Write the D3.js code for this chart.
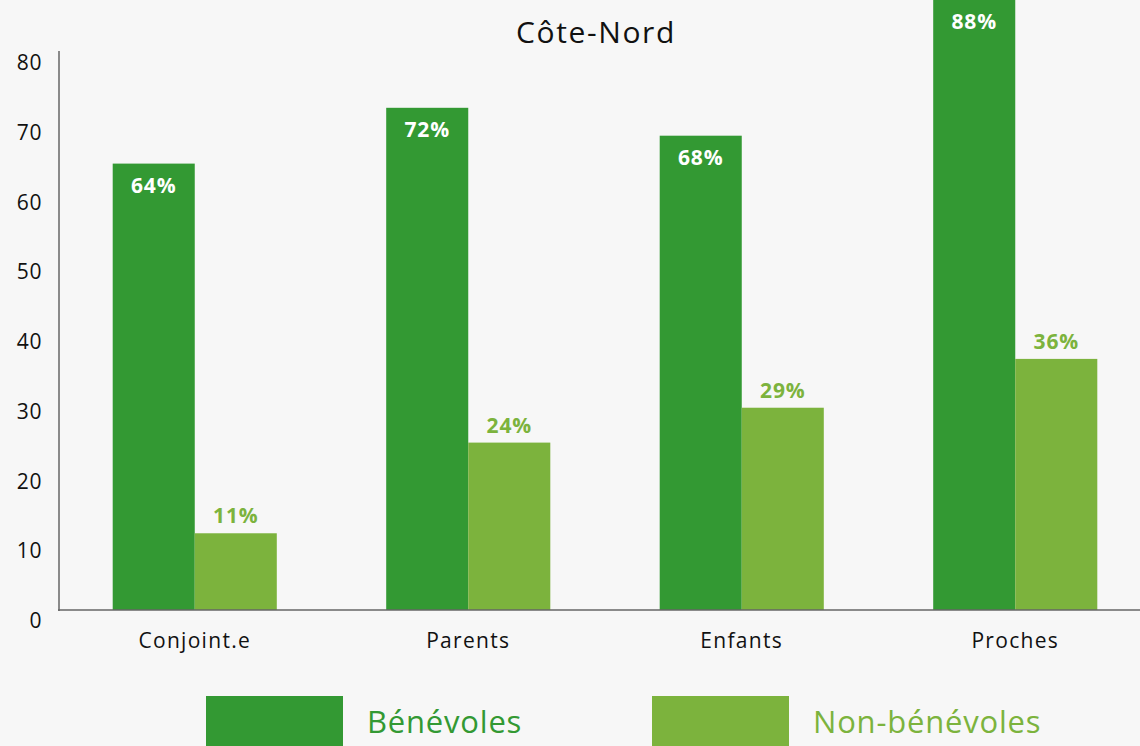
<!DOCTYPE html>
<html><head><meta charset="utf-8">
<script src="https://cdn.jsdelivr.net/npm/d3@7"></script>
<style>
html,body{margin:0;padding:0;background:#f7f7f7;}
svg{display:block;font-family:"Open Sans",Lato,sans-serif;}
</style></head>
<body>
<svg id="chart" width="1140" height="746"></svg>
<script>
const categories = ["Conjoint.e", "Parents", "Enfants", "Proches"];
const seriesNames = ["Bénévoles", "Non-bénévoles"];
const benevoles = [64, 72, 68, 88];
const nonBenevoles = [11, 24, 29, 36];
const yTicks = [0, 10, 20, 30, 40, 50, 60, 70, 80];
const title = "Côte-Nord";
const colors = ["#339933", "#7cb33d"];

const svg = d3.select("#chart");
svg.append("rect").attr("width",1140).attr("height",746).attr("fill","#f7f7f7");

const x = d3.scaleBand().domain(categories).range([58, 1152]).paddingInner(0).paddingOuter(0);
const x1 = d3.scaleBand().domain(seriesNames).range([0, x.bandwidth()]).paddingInner(0).paddingOuter(0.6667);
const y = d3.scaleLinear().domain([0, 80]).range([610, 52]);

const yAxis = svg.append("g");
yAxis.selectAll("text").data(yTicks).join("text")
  .attr("x", 42).attr("y", d => y(d) + 10)
  .attr("text-anchor","end").attr("dominant-baseline","central")
  .attr("font-size", 21).attr("letter-spacing", 0.6).attr("fill","#111").text(d => d);

const data = categories.map((c,i) => ({cat:c, vals:[benevoles[i], nonBenevoles[i]]}));

const groups = svg.append("g").selectAll("g").data(data).join("g")
  .attr("transform", d => `translate(${x(d.cat)},0)`);

groups.selectAll("rect").data(d => d.vals.map((v,j)=>({v, s:seriesNames[j], j})))
  .join("rect")
  .attr("x", d => x1(d.s)).attr("width", x1.bandwidth())
  .attr("y", d => y(d.v)).attr("height", d => y(0) - y(d.v))
  .attr("fill", d => colors[d.j]);

groups.selectAll("text.val").data(d => d.vals.map((v,j)=>({v, s:seriesNames[j], j})))
  .join("text").attr("class","val")
  .attr("x", d => x1(d.s) + x1.bandwidth()/2)
  .attr("y", d => d.j === 0 ? Math.max(y(d.v), 0) + 21 : y(d.v) - 18)
  .attr("text-anchor","middle").attr("dominant-baseline","central")
  .attr("font-size", 21).attr("font-weight","bold").attr("letter-spacing", 0.8)
  .attr("fill", d => d.j === 0 ? "#ffffff" : colors[1])
  .text(d => d.v + "%");

svg.append("line").attr("x1",59).attr("x2",59).attr("y1",y(80)-1).attr("y2",y(0)+1)
  .attr("stroke","#666").attr("stroke-width",1.5);
svg.append("line").attr("x1",58).attr("x2",1140).attr("y1",y(0)).attr("y2",y(0))
  .attr("stroke","#666").attr("stroke-width",1.5);

svg.append("g").selectAll("text").data(categories).join("text")
  .attr("x", d => x(d) + x.bandwidth()/2).attr("y", 640)
  .attr("text-anchor","middle").attr("dominant-baseline","central")
  .attr("font-size", 21).attr("letter-spacing", 1.3).attr("fill","#111").text(d => d);

svg.append("text").attr("x", 596).attr("y", 31)
  .attr("text-anchor","middle").attr("dominant-baseline","central")
  .attr("font-size", 30).attr("letter-spacing", 1.6).attr("fill","#111").text(title);

const legendX = [206, 652];
const leg = svg.append("g").selectAll("g").data(seriesNames).join("g")
  .attr("transform", (d,i) => `translate(${legendX[i]},696)`);
leg.append("rect").attr("width",137).attr("height",55).attr("fill",(d,i)=>colors[i]);
leg.append("text").attr("x",161).attr("y",25)
  .attr("dominant-baseline","central").attr("font-size",31).attr("letter-spacing",0.8)
  .attr("fill",(d,i)=>colors[i]).text(d => d);
</script>
</body></html>
